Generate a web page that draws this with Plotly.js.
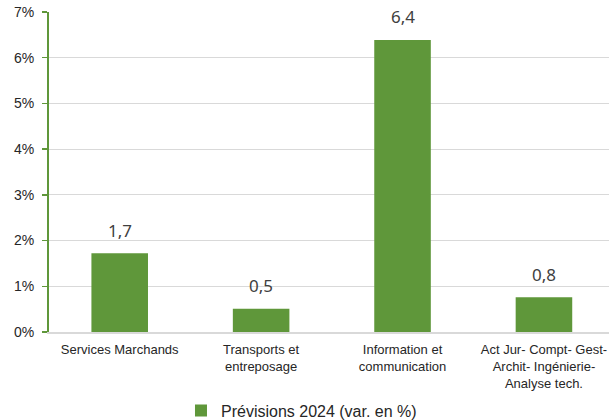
<!DOCTYPE html>
<html>
<head>
<meta charset="utf-8">
<script src="https://cdn.plot.ly/plotly-3.0.1.min.js"></script>
<style>
  html, body { margin: 0; padding: 0; background: #ffffff; }
  #chart { width: 609px; height: 420px; }
</style>
</head>
<body>
<div id="chart"></div>
<script>
// Secteurs des services marchands
const categories = [
  'Services Marchands',
  'Transports et<br>entreposage',
  'Information et<br>communication',
  'Act Jur- Compt- Gest-<br>Archit- Ingénierie-<br>Analyse tech.'
];
// Prévisions 2024, variation en %
const values = [1.72, 0.51, 6.39, 0.76];
const seriesName = 'Prévisions 2024 (var. en %)';
const yTickValues = [0, 1, 2, 3, 4, 5, 6, 7];
const yTickLabels = ['0%', '1%', '2%', '3%', '4%', '5%', '6%', '7%'];

const green = '#5f973a';
const xPos = categories.map((_, i) => i);

const bars = {
  type: 'bar',
  x: xPos,
  y: values,
  name: seriesName,
  marker: { color: green, line: { width: 0 } },
  width: 0.4,
  hoverinfo: 'skip',
  showlegend: true
};

// Value labels above each bar, French decimal comma
const labels = values.map((v, i) => ({
  x: xPos[i],
  y: v,
  xref: 'x',
  yref: 'y',
  text: v.toFixed(1).replace('.', ','),
  showarrow: false,
  yanchor: 'middle',
  yshift: 23,
  font: { family: 'Noto Sans, sans-serif', size: 17, color: '#404040' }
}));

const layout = {
  width: 609,
  height: 420,
  margin: { l: 49, r: 0, t: 12, b: 88, pad: 0, autoexpand: false },
  paper_bgcolor: '#ffffff',
  plot_bgcolor: '#ffffff',
  font: { family: 'Liberation Sans, Arial, sans-serif', color: '#262626' },
  bargap: 0.6,
  xaxis: {
    range: [-0.5, 3.46],
    tickmode: 'array',
    tickvals: xPos,
    ticktext: categories,
    tickfont: { size: 13, color: '#262626' },
    ticklabeloverflow: 'allow',
    showgrid: false,
    zeroline: false,
    showline: true,
    linecolor: '#d9d9d9',
    linewidth: 1.5,
    ticks: '',
    ticklabelstandoff: 5,
    automargin: false,
    fixedrange: true
  },
  yaxis: {
    range: [0, 7],
    tickmode: 'array',
    tickvals: yTickValues,
    ticktext: yTickLabels,
    tickfont: { size: 14, color: '#262626' },
    ticklabelstandoff: 5,
    showgrid: true,
    gridcolor: '#d9d9d9',
    gridwidth: 1,
    zeroline: false,
    showline: true,
    linecolor: green,
    linewidth: 2,
    ticks: 'outside',
    ticklen: 5,
    tickwidth: 1.5,
    tickcolor: green,
    automargin: false,
    fixedrange: true
  },
  showlegend: true,
  legend: {
    orientation: 'h',
    x: 0.2357,
    xanchor: 'left',
    yref: 'container',
    y: 0.0226,
    yanchor: 'middle',
    font: { size: 16, color: '#262626' },
    bgcolor: 'rgba(0,0,0,0)'
  },
  annotations: labels
};

Plotly.newPlot('chart', [bars], layout, { displayModeBar: false, staticPlot: true });
</script>
</body>
</html>
